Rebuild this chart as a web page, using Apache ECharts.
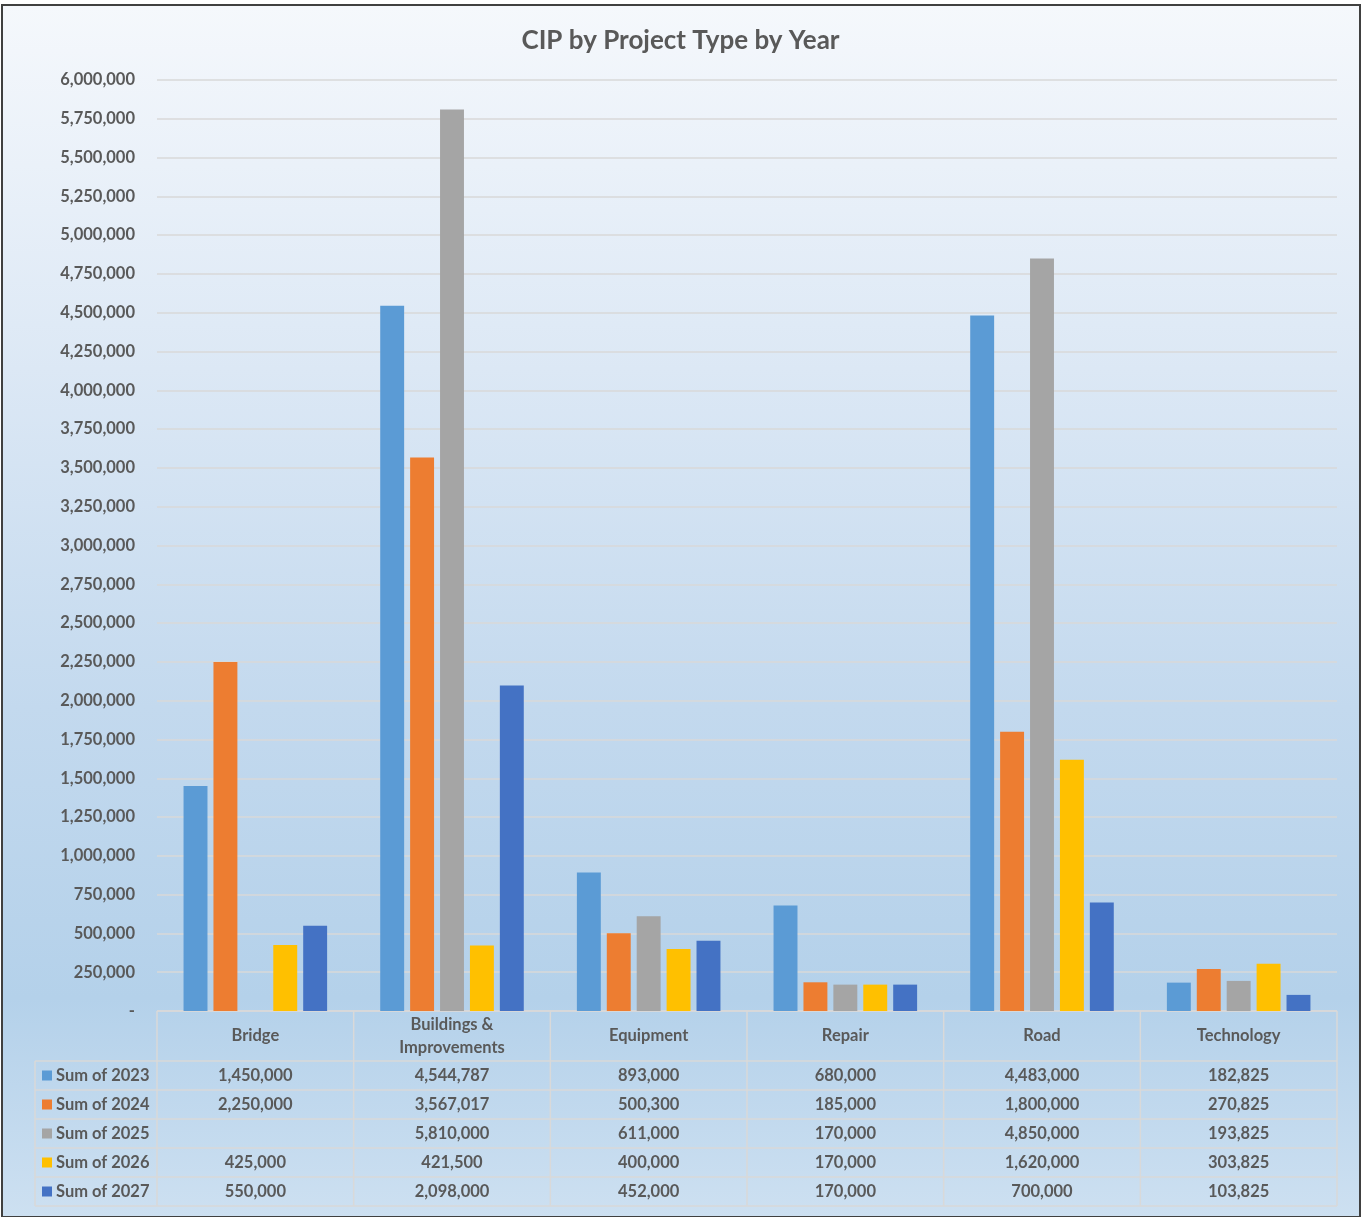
<!DOCTYPE html>
<html>
<head>
<meta charset="utf-8">
<script src="https://cdn.jsdelivr.net/npm/echarts@6/dist/echarts.min.js"></script>
<style>
html,body{margin:0;padding:0;background:#fff;}
#wrap{position:relative;width:1361px;height:1217px;background:#fff;}
#bg{position:absolute;left:1px;top:4px;width:1356px;height:1210px;border:2px solid #404040;
background:linear-gradient(to bottom,#f5f8fc 0%,#dce8f5 30%,#c3d9ee 58%,#b4d1ea 82%,#cde0f1 100%);}
#chart{position:absolute;left:0;top:0;width:1361px;height:1217px;}
</style>
</head>
<body>
<div id="wrap"><div id="bg"></div><div id="chart"></div></div>
<script>
const categories = ['Bridge', 'Buildings &\nImprovements', 'Equipment', 'Repair', 'Road', 'Technology'];
const seriesNames = ['Sum of 2023', 'Sum of 2024', 'Sum of 2025', 'Sum of 2026', 'Sum of 2027'];
const sum2023 = [1450000, 4544787, 893000, 680000, 4483000, 182825];
const sum2024 = [2250000, 3567017, 500300, 185000, 1800000, 270825];
const sum2025 = [null, 5810000, 611000, 170000, 4850000, 193825];
const sum2026 = [425000, 421500, 400000, 170000, 1620000, 303825];
const sum2027 = [550000, 2098000, 452000, 170000, 700000, 103825];
const colors = ['#5b9bd5', '#ed7d31', '#a5a5a5', '#ffc000', '#4472c4'];
const allData = [sum2023, sum2024, sum2025, sum2026, sum2027];

const FONT = 'Lato';
const TXT = '#595959';
const FS = 16.5;
const fmt = v => (v === null || v === undefined) ? '' : v.toLocaleString('en-US');

const chart = echarts.init(document.getElementById('chart'), null, {renderer: 'canvas'});
const GRID = {left: 157, right: 24, top: 80, bottom: 206};

chart.setOption({
  backgroundColor: 'transparent',
  animation: false,
  title: {
    text: 'CIP by Project Type by Year',
    left: 'center', top: 23,
    textStyle: {fontFamily: FONT, fontWeight: 'bold', fontSize: 26, color: TXT}
  },
  grid: GRID,
  xAxis: {
    type: 'category',
    data: categories,
    axisLine: {show: false},
    axisTick: {show: false},
    axisLabel: {show: false}
  },
  yAxis: {
    type: 'value',
    min: 0, max: 6000000, interval: 250000,
    axisLine: {show: false},
    axisTick: {show: false},
    splitLine: {lineStyle: {color: '#d9d9d9', width: 1.5}},
    axisLabel: {
      fontFamily: FONT, fontWeight: 'bold', fontSize: FS, color: TXT, margin: 22,
      formatter: v => v === 0 ? '-' : v.toLocaleString('en-US')
    }
  },
  series: seriesNames.map((n, i) => ({
    name: n, type: 'bar', data: allData[i],
    barGap: '25%', barCategoryGap: '27%',
    itemStyle: {color: colors[i]}
  }))
});

// Data table below the plot, aligned to the category axis
const centers = categories.map((c, i) => chart.convertToPixel({xAxisIndex: 0}, i));
const band = centers[1] - centers[0];
const yTop = chart.convertToPixel({yAxisIndex: 0}, 0);
const headH = 50, rowH = 29, legL = 35;
const leftEdge = centers[0] - band / 2;
const rightEdge = centers[centers.length - 1] + band / 2;
const lineStyle = {stroke: '#d9d9d9', lineWidth: 1.5};
const g = [];
g.push({type: 'line', shape: {x1: leftEdge, y1: yTop, x2: rightEdge, y2: yTop}, style: lineStyle});
for (let r = 0; r <= seriesNames.length; r++) {
  const y = yTop + headH + r * rowH;
  g.push({type: 'line', shape: {x1: legL, y1: y, x2: rightEdge, y2: y}, style: lineStyle});
}
const yBot = yTop + headH + seriesNames.length * rowH;
for (let c = 0; c <= categories.length; c++) {
  const x = leftEdge + c * band;
  g.push({type: 'line', shape: {x1: x, y1: yTop, x2: x, y2: yBot}, style: lineStyle});
}
g.push({type: 'line', shape: {x1: legL, y1: yTop + headH, x2: legL, y2: yBot}, style: lineStyle});
categories.forEach((c, i) => {
  g.push({type: 'text', x: centers[i], y: yTop + headH / 2,
    style: {text: c, fontFamily: FONT, fontWeight: 'bold', fontSize: FS, fill: TXT,
      align: 'center', verticalAlign: 'middle', lineHeight: 23}});
});
seriesNames.forEach((n, r) => {
  const cy = yTop + headH + r * rowH + rowH / 2;
  g.push({type: 'rect', shape: {x: 42, y: cy - 5, width: 10, height: 10}, style: {fill: colors[r]}});
  g.push({type: 'text', x: 56, y: cy,
    style: {text: n, fontFamily: FONT, fontWeight: 'bold', fontSize: FS, fill: TXT,
      align: 'left', verticalAlign: 'middle'}});
  allData[r].forEach((v, i) => {
    g.push({type: 'text', x: centers[i], y: cy,
      style: {text: fmt(v), fontFamily: FONT, fontWeight: 'bold', fontSize: FS, fill: TXT,
        align: 'center', verticalAlign: 'middle'}});
  });
});
chart.setOption({graphic: {elements: g}});
</script>
</body>
</html>
